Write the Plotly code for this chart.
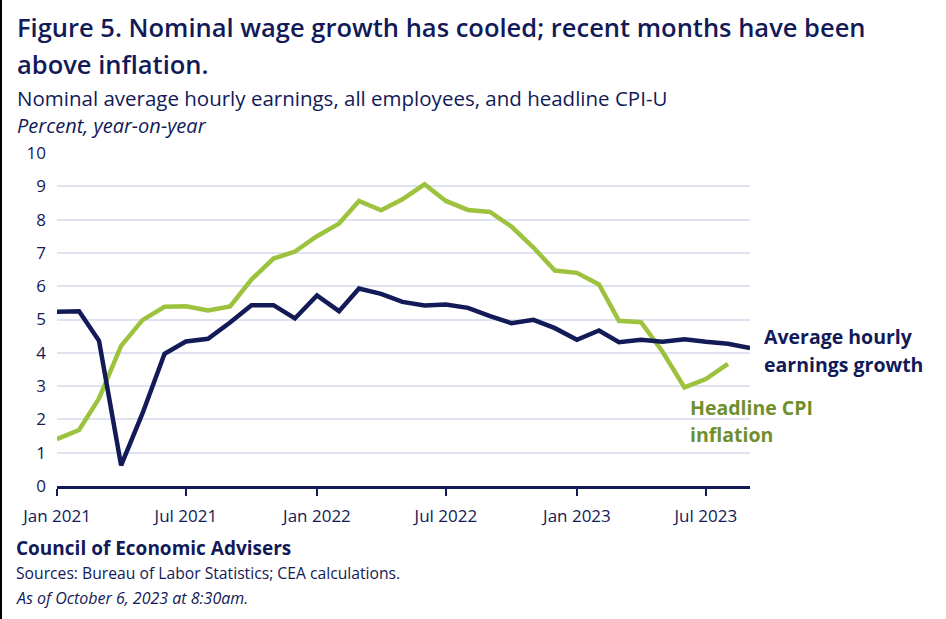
import plotly.graph_objects as go

months = ["2021-01-01","2021-02-01","2021-03-01","2021-04-01","2021-05-01","2021-06-01",
          "2021-07-01","2021-08-01","2021-09-01","2021-10-01","2021-11-01","2021-12-01",
          "2022-01-01","2022-02-01","2022-03-01","2022-04-01","2022-05-01","2022-06-01",
          "2022-07-01","2022-08-01","2022-09-01","2022-10-01","2022-11-01","2022-12-01",
          "2023-01-01","2023-02-01","2023-03-01","2023-04-01","2023-05-01","2023-06-01",
          "2023-07-01","2023-08-01","2023-09-01"]

ahe_growth = [5.23, 5.25, 4.36, 0.62, 2.18, 3.97, 4.34, 4.42, 4.91, 5.43, 5.43, 5.03,
              5.72, 5.25, 5.93, 5.77, 5.53, 5.42, 5.45, 5.35, 5.10, 4.89, 4.99, 4.74,
              4.39, 4.67, 4.32, 4.39, 4.33, 4.41, 4.33, 4.27, 4.14]

cpi_inflation = [1.41, 1.68, 2.63, 4.21, 4.98, 5.38, 5.40, 5.27, 5.39, 6.20, 6.83, 7.04,
                 7.50, 7.88, 8.56, 8.28, 8.61, 9.06, 8.56, 8.29, 8.23, 7.79, 7.16, 6.47,
                 6.40, 6.05, 4.96, 4.92, 4.04, 2.96, 3.21, 3.67]

y_ticks = [0, 1, 2, 3, 4, 5, 6, 7, 8, 9, 10]

NAVY = "#121a57"
GREEN = "#9cc23e"
GREEN_TXT = "#6f8f2c"
FONT = "Open Sans"

W, H = 946, 619
ML, MR, MT, MB = 57, 196, 153, 133
PW = W - ML - MR
PH = H - MT - MB

def px(x):
    return (x - ML) / PW

def py(y):
    return (H - MB - y) / PH

fig = go.Figure()
fig.add_trace(go.Scatter(x=months[:len(cpi_inflation)], y=cpi_inflation, mode="lines",
                         line=dict(color=GREEN, width=4.5), showlegend=False))
fig.add_trace(go.Scatter(x=months, y=ahe_growth, mode="lines",
                         line=dict(color=NAVY, width=4.5), showlegend=False))

ann = []
def text(x, y, s, size, color=NAVY, weight="normal", style="normal"):
    ann.append(dict(x=px(x), y=py(y), xref="paper", yref="paper", text=s, showarrow=False,
                    xanchor="left", yanchor="middle", align="left",
                    font=dict(family=FONT, size=size, color=color, weight=weight, style=style)))

text(15, 27, "Figure 5. Nominal wage growth has cooled; recent months have been", 25.5, weight=600)
text(15, 64, "above inflation.", 25.5, weight=600)
text(15, 98, "Nominal average hourly earnings, all employees, and headline CPI-U", 20.5)
text(15, 126, "Percent, year-on-year", 20, style="italic")
text(762, 336, "Average hourly", 19.5, weight="bold")
text(762, 364, "earnings growth", 19.5, weight="bold")
text(688, 407, "Headline CPI", 19.5, GREEN_TXT, weight="bold")
text(688, 434, "inflation", 19.5, GREEN_TXT, weight="bold")
text(14, 548, "Council of Economic Advisers", 19, weight="bold")
text(14, 573, "Sources: Bureau of Labor Statistics; CEA calculations.", 15.7)
text(14, 598, "As of October 6, 2023 at 8:30am.", 16, style="italic")

fig.update_layout(
    width=W, height=H,
    margin=dict(l=ML, r=MR, t=MT, b=MB),
    paper_bgcolor="white", plot_bgcolor="white",
    annotations=ann,
    shapes=[dict(type="line", xref="paper", yref="paper", x0=px(1), x1=px(1), y0=py(0), y1=py(H),
                 line=dict(color="black", width=2))],
    xaxis=dict(type="date", range=["2021-01-01", "2023-09-01"], tick0="2021-01-01", dtick="M6",
               tickformat="%b %Y", showgrid=False, showline=True, linecolor=NAVY, linewidth=3,
               ticks="outside", ticklen=7, tickwidth=2, tickcolor=NAVY, ticklabelstandoff=6,
               tickfont=dict(family=FONT, size=17, color=NAVY)),
    yaxis=dict(range=[0, 10], tickvals=y_ticks, showgrid=True, gridcolor="#dfe2f0", gridwidth=2,
               zeroline=False, showline=False, ticks="", ticklabelstandoff=10,
               tickfont=dict(family=FONT, size=17, color=NAVY)),
)

fig.write_html("out.html", config={"displayModeBar": False},
               post_script="document.body.style.margin='0';document.body.style.padding='0';")
